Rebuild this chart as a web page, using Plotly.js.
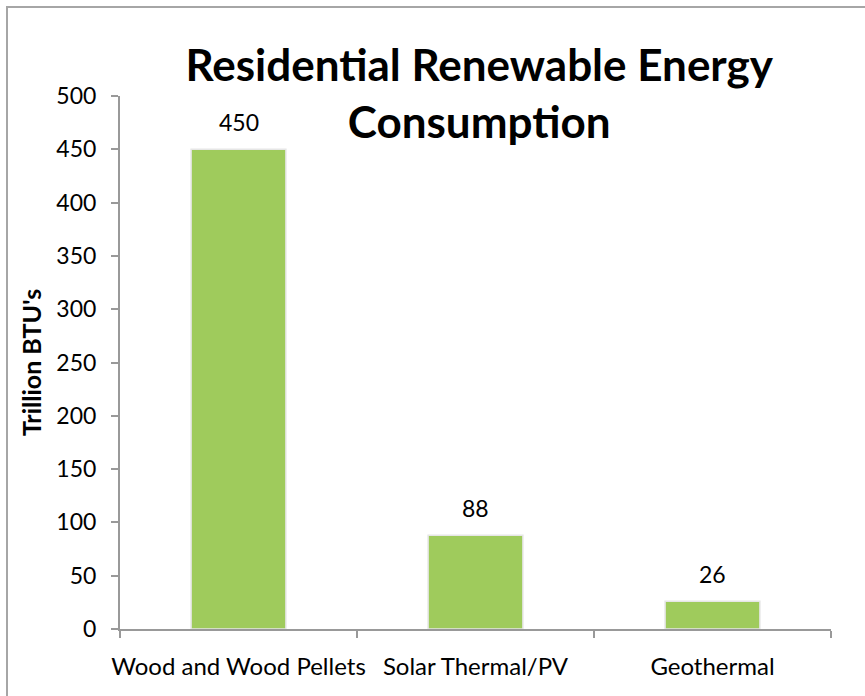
<!DOCTYPE html>
<html>
<head>
<meta charset="utf-8">
<script src="https://cdn.plot.ly/plotly-3.0.1.min.js"></script>
<style>
  html, body { margin: 0; padding: 0; background: #fff; }
  #frame { position: absolute; left: 6px; top: 6px; width: 880px; height: 720px; border-left: 2px solid #a6a6a6; border-top: 2px solid #a6a6a6; box-sizing: border-box; }
  #chart { position: absolute; left: 0; top: 0; width: 865px; height: 696px; }
</style>
</head>
<body>
<div id="frame"></div>
<div id="chart"></div>
<script>
const categories = ["Wood and Wood Pellets", "Solar Thermal/PV", "Geothermal"];
const values = [450, 88, 26];
const yTicks = [0, 50, 100, 150, 200, 250, 300, 350, 400, 450, 500];

const fontFamily = "Lato, 'Open Sans', sans-serif";

const trace = {
  type: "bar",
  x: categories,
  y: values,
  width: 0.4,
  marker: { color: "#9fcb5c", line: { color: "#e6e6e6", width: 1.5 } },
  hoverinfo: "none"
};

const annotations = categories.map((c, i) => ({
  x: c, y: values[i], xref: "x", yref: "y",
  text: String(values[i]), showarrow: false,
  yanchor: "bottom", yshift: 11,
  font: { family: fontFamily, size: 23, color: "#000" }
}));

const layout = {
  width: 865, height: 696,
  paper_bgcolor: "rgba(0,0,0,0)",
  plot_bgcolor: "rgba(0,0,0,0)",
  margin: { l: 120, r: 34, t: 96, b: 67 },
  showlegend: false,
  title: {
    text: "<b>Residential Renewable Energy<br>Consumption</b>",
    font: { family: fontFamily, size: 44, color: "#000" },
    x: 0.554, xanchor: "center",
    y: 0.884, yanchor: "top", yref: "container"
  },
  xaxis: {
    type: "category",
    showline: true, linecolor: "#999", linewidth: 2,
    ticks: "outside", tickson: "boundaries", ticklen: 7, tickcolor: "#999", tickwidth: 2,
    tickfont: { family: fontFamily, size: 24, color: "#000" },
    tickangle: 0,
    ticklabelstandoff: 15,
    showgrid: false, zeroline: false
  },
  yaxis: {
    range: [0, 500],
    tickvals: yTicks,
    showline: true, linecolor: "#999", linewidth: 2,
    ticks: "outside", ticklen: 7, tickcolor: "#999", tickwidth: 2,
    tickfont: { family: fontFamily, size: 23, color: "#000" },
    ticklabelstandoff: 10,
    showgrid: false, zeroline: false,
    title: { text: "<b>Trillion BTU's</b>", font: { family: fontFamily, size: 25, color: "#000" }, standoff: 8 }
  },
  annotations: annotations,
  bargap: 0.6
};

Plotly.newPlot("chart", [trace], layout, { displayModeBar: false, staticPlot: true });
</script>
</body>
</html>
